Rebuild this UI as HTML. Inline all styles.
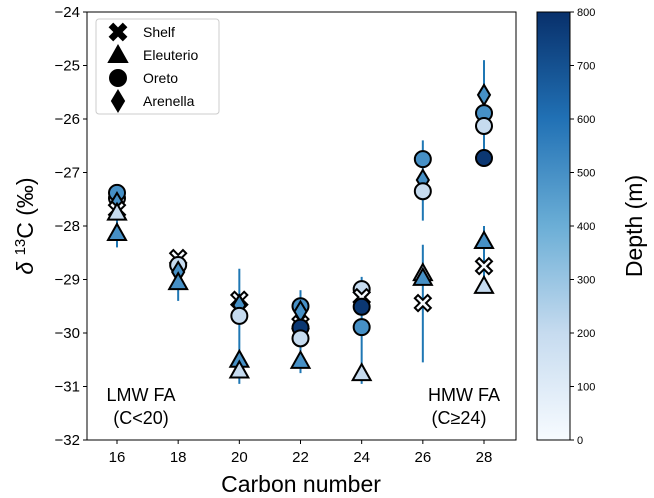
<!DOCTYPE html>
<html><head><meta charset="utf-8"><style>body{margin:0;background:#fff}svg{display:block;font-family:"Liberation Sans",sans-serif}</style></head>
<body>
<svg id="c" width="654" height="498">
<defs><linearGradient id="cb" x1="0" y1="1" x2="0" y2="0">
<stop offset="0" stop-color="#f7fbff"/><stop offset="0.25" stop-color="#c6dbef"/><stop offset="0.5" stop-color="#6baed6"/><stop offset="0.75" stop-color="#2171b5"/><stop offset="1" stop-color="#08306b"/></linearGradient></defs>
</svg>
<script>
const carbons=[16,18,20,22,24,26,28];
const xTicks=[16,18,20,22,24,26,28];
const yTicks=[-24,-25,-26,-27,-28,-29,-30,-31,-32];
const cbTicks=[0,100,200,300,400,500,600,700,800];
// error bars: [carbon, low, high]
const errC=[16,18,20,22,24,26,26,28,28];
const errLo=[-28.4,-29.4,-30.95,-30.75,-30.95,-27.9,-30.55,-26.7,-29.2];
const errHi=[-27.8,-28.7,-28.8,-29.2,-28.95,-26.4,-28.35,-24.9,-28.0];
// series: marker type, carbon, value, depth
const mType=['c','c','d','x','t','t', 'x','c','d','t', 'x','d','c','t','t', 'c','d','x','c','c','t', 'c','x','c','c','t', 'c','d','c','t','t','x', 'd','c','c','c','t','x','t'];
const mC=[16,16,16,16,16,16, 18,18,18,18, 20,20,20,20,20, 22,22,22,22,22,22, 24,24,24,24,24, 26,26,26,26,26,26, 28,28,28,28,28,28,28];
const mV=[-27.48,-27.38,-27.57,-27.7,-27.75,-28.13, -28.6,-28.73,-28.86,-29.05, -29.38,-29.48,-29.68,-30.5,-30.7, -29.5,-29.6,-29.83,-29.9,-30.1,-30.52, -29.18,-29.33,-29.51,-29.89,-30.75, -26.75,-27.14,-27.35,-28.88,-28.97,-29.44, -25.55,-25.89,-26.13,-26.73,-28.28,-28.75,-29.12];
const mD=[200,500,500,0,200,500, 0,200,500,500, 0,500,200,500,200, 500,500,0,780,200,500, 200,0,780,500,200, 500,500,200,200,500,0, 500,500,200,780,500,0,200];
const NS='http://www.w3.org/2000/svg',svg=document.getElementById('c');
const X0=87,X1=516,Y0=12,Y1=440;
const xs=c=>117+(c-16)*(484-117)/12, ys=v=>Y0+(-24-v)*(Y1-Y0)/8;
function mk(t,a,p){const e=document.createElementNS(NS,t);for(const k in a)e.setAttribute(k,a[k]);(p||svg).appendChild(e);return e;}
function col(d){const s=[[247,251,255],[198,219,239],[107,174,214],[33,113,181],[8,48,107]];const f=Math.min(d/800,1)*4,i=Math.min(Math.floor(f),3),r=f-i;const c=s[i].map((v,j)=>Math.round(v+(s[i+1][j]-v)*r));return `rgb(${c})`;}
function marker(t,x,y,fill,p){const st={fill:fill,stroke:'#000','stroke-width':2};
 if(t==='c')return mk('circle',Object.assign({cx:x,cy:y,r:8},st),p);
 if(t==='t')return mk('polygon',Object.assign({points:`${x},${y-9} ${x+9},${y+7} ${x-9},${y+7}`},st),p);
 if(t==='d')return mk('polygon',Object.assign({points:`${x},${y-10} ${x+6},${y} ${x},${y+10} ${x-6},${y}`},st),p);
 const a=3.2,b=8;return mk('polygon',Object.assign({points:`${x-b+a},${y-b} ${x},${y-a} ${x+b-a},${y-b} ${x+b},${y-b+a} ${x+a},${y} ${x+b},${y+b-a} ${x+b-a},${y+b} ${x},${y+a} ${x-b+a},${y+b} ${x-b},${y+b-a} ${x-a},${y} ${x-b},${y-b+a}`},st),p);}
// frame
let e=mk('rect',{x:X0,y:Y0,width:X1-X0,height:Y1-Y0,fill:'none',stroke:'#000','stroke-width':1});


xTicks.forEach(t=>{mk('line',{x1:xs(t),x2:xs(t),y1:Y1,y2:Y1+4,stroke:'#000'});const l=mk('text',{x:xs(t),y:Y1+22,'text-anchor':'middle','font-size':15});l.textContent=t;

});
yTicks.forEach(t=>{mk('line',{x1:X0-4,x2:X0,y1:ys(t),y2:ys(t),stroke:'#000'});const l=mk('text',{x:X0-7,y:ys(t)+5,'text-anchor':'end','font-size':15});l.textContent='\u2212'+Math.abs(t);

});
errC.forEach((c,i)=>{const l=mk('line',{x1:xs(c),x2:xs(c),y1:ys(errLo[i]),y2:ys(errHi[i]),stroke:'#1f77b4','stroke-width':2});

});
mType.forEach((t,i)=>{const m=marker(t,xs(mC[i]),ys(mV[i]),col(mD[i]));

});
let tx=mk('text',{x:301,y:492,'text-anchor':'middle','font-size':23});tx.textContent='Carbon number';


tx=mk('text',{x:0,y:0,'text-anchor':'middle','font-size':23,transform:'translate(33,226) rotate(-90)'});tx.innerHTML='<tspan font-style="italic">δ</tspan> <tspan dy="-8" font-size="15">13</tspan><tspan dy="8">C (‰)</tspan>';


[['LMW FA',141,401],['(C<20)',141,424],['HMW FA',464,401],['(C≥24)',459,424]].forEach(a=>{const t=mk('text',{x:a[1],y:a[2],'text-anchor':'middle','font-size':18});t.textContent=a[0];

});
// legend
const lg=mk('g',{});


mk('rect',{x:96,y:19,width:123,height:95,rx:3,fill:'#fff',stroke:'#ccc'},lg);
[['x','Shelf'],['t','Eleuterio'],['c','Oreto'],['d','Arenella']].forEach((a,i)=>{const y=32+i*23;marker(a[0],118,y,'#000',lg);const t=mk('text',{x:143,y:y+5,'font-size':14},lg);t.textContent=a[1];

});
// colorbar
const cy=v=>440-v*(428/800);
e=mk('rect',{x:537,y:12,width:33,height:428,fill:'url(#cb)',stroke:'#000'});


cbTicks.forEach(t=>{mk('line',{x1:570,x2:574,y1:cy(t),y2:cy(t),stroke:'#000'});const l=mk('text',{x:577,y:cy(t)+4,'font-size':11});l.textContent=t;

});
tx=mk('text',{x:0,y:0,'text-anchor':'middle','font-size':23,transform:'translate(642,226) rotate(-90)'});tx.textContent='Depth (m)';


</script>
</body></html>
